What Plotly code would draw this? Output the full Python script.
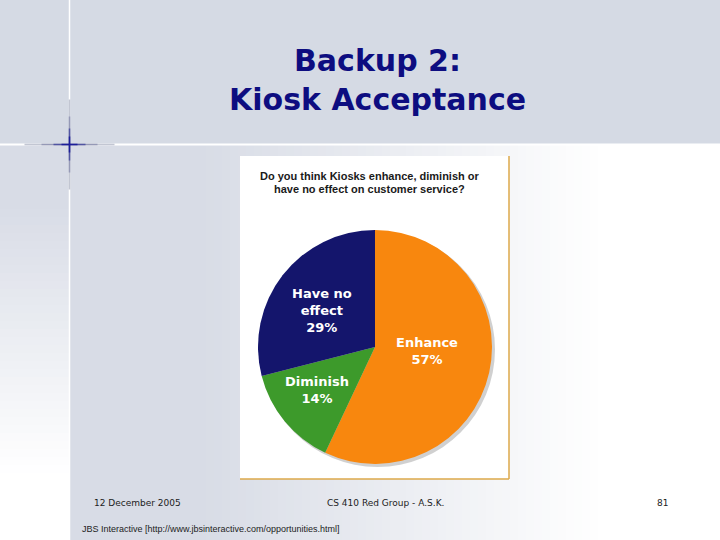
import plotly.graph_objects as go

# ---- data ----
labels = ["Enhance", "Diminish", "Have no effect"]
values = [57, 14, 29]
label_lines = [["Enhance"], ["Diminish"], ["Have no", "effect"]]
colors = ["#f8870e", "#3d9a2b", "#14156c"]
title_lines = ["Backup 2:", "Kiosk Acceptance"]
question = ["Do you think Kiosks enhance, diminish or", "have no effect on customer service?"]
footer_date = "12 December 2005"
footer_mid = "CS 410 Red Group - A.S.K."
footer_page = "81"
source_note = "JBS Interactive [http://www.jbsinteractive.com/opportunities.html]"

W, H = 720, 540
def px(x): return x / W
def py(y): return 1 - y / H

def mix(c1, c2, t):
    t = max(0.0, min(1.0, t))
    a = [int(c1[i:i+2], 16) for i in (1, 3, 5)]
    b = [int(c2[i:i+2], 16) for i in (1, 3, 5)]
    return "rgb(%d,%d,%d)" % tuple(round(a[k] + (b[k] - a[k]) * t) for k in range(3))

shapes = []
def rect(x0, y0, x1, y1, color, layer="below", line=None):
    shapes.append(dict(type="rect", xref="paper", yref="paper",
                       x0=px(x0), x1=px(x1), y0=py(y1), y1=py(y0),
                       fillcolor=color, line=line or dict(width=0), layer=layer))
def seg(x0, y0, x1, y1, color, w=1, op=1.0, layer="below"):
    shapes.append(dict(type="line", xref="paper", yref="paper",
                       x0=px(x0), x1=px(x1), y0=py(y0), y1=py(y1),
                       line=dict(color=color, width=w), opacity=op, layer=layer))

band = "#d5dae4"
gray = "#d8dce6"
# top band
rect(0, 0, W, 145, band)
# lower area horizontal gradient
step = 8
for x in range(70, W, step):
    rect(x, 145, x + step + 1, H, mix(gray, "#ffffff", (x - 200) / 400))
# left strip vertical gradient
for y in range(145, H, step):
    rect(0, y, 69, y + step + 1, mix(gray, "#ffffff", (y - 200) / 270))
# white lines
seg(0, 144.5, W, 144.5, "#ffffff", 2)
seg(69.5, 0, 69.5, H, "#ffffff", 1.5)
# crosshair glow
cxh, cyh = 69.5, 144.5
for d, col, op in [(45, "#b4b8c8", 0.8), (28, "#8a8fb0", 0.8), (16, "#4a4ea0", 0.9), (8, "#1c1e9a", 1.0)]:
    seg(cxh - d, cyh, cxh + d, cyh, col, 1.5, op)
    seg(cxh, cyh - d, cxh, cyh + d, col, 1.5, op)

# chart box
rect(240, 156, 509, 479, "#ffffff")
seg(509, 156, 509, 479, "#dca84a", 1.5)
seg(240, 479, 509, 479, "#dca84a", 1.5)
# pie shadow
cx, cy, r = 375, 347, 117
shapes.append(dict(type="circle", xref="paper", yref="paper",
                   x0=px(cx - r + 2), x1=px(cx + r + 3), y0=py(cy + r + 3), y1=py(cy - r + 2),
                   fillcolor="rgba(120,120,120,0.35)", line=dict(width=0), layer="below"))

fig = go.Figure(go.Pie(
    labels=labels, values=values, sort=False, direction="clockwise", rotation=0,
    marker=dict(colors=colors, line=dict(width=0)),
    textinfo="none", hoverinfo="label+percent", showlegend=False,
    domain=dict(x=[px(cx - r), px(cx + r)], y=[py(cy + r), py(cy - r)]),
))

ann = []
def text(x, y, s, size, color, family, bold=False, xanchor="center"):
    ann.append(dict(x=px(x), y=py(y), xref="paper", yref="paper", showarrow=False,
                    text=("<b>%s</b>" % s) if bold else s, xanchor=xanchor, yanchor="middle",
                    font=dict(size=size, color=color, family=family)))

# title
text(377, 60, title_lines[0], 30, "#0d0d80", "DejaVu Sans", True)
text(377, 100, title_lines[1], 30, "#0d0d80", "DejaVu Sans", True)
# question
text(370, 176, question[0], 11, "#1a1a1a", "Liberation Sans", True)
text(370, 189, question[1], 11, "#1a1a1a", "Liberation Sans", True)
# slice labels
lab_pos = [(427, 351), (317, 390), (322, 310)]
for i in range(len(labels)):
    s = "<br>".join(label_lines[i] + ["%d%%" % values[i]])
    text(lab_pos[i][0], lab_pos[i][1], s, 13, "#ffffff", "DejaVu Sans", True)
# footer
text(92, 503, footer_date, 9, "#222222", "DejaVu Sans", xanchor="left")
text(385, 503, footer_mid, 9, "#222222", "DejaVu Sans")
text(662, 503, footer_page, 9, "#222222", "DejaVu Sans")
text(80, 529, source_note, 9, "#222222", "Liberation Sans", xanchor="left")

fig.update_layout(width=W, height=H, margin=dict(l=0, r=0, t=0, b=0),
                  paper_bgcolor="#ffffff", plot_bgcolor="#ffffff",
                  shapes=shapes, annotations=ann)
fig.write_html("out.html", config={"displayModeBar": False},
               post_script="document.body.style.margin='0';")
